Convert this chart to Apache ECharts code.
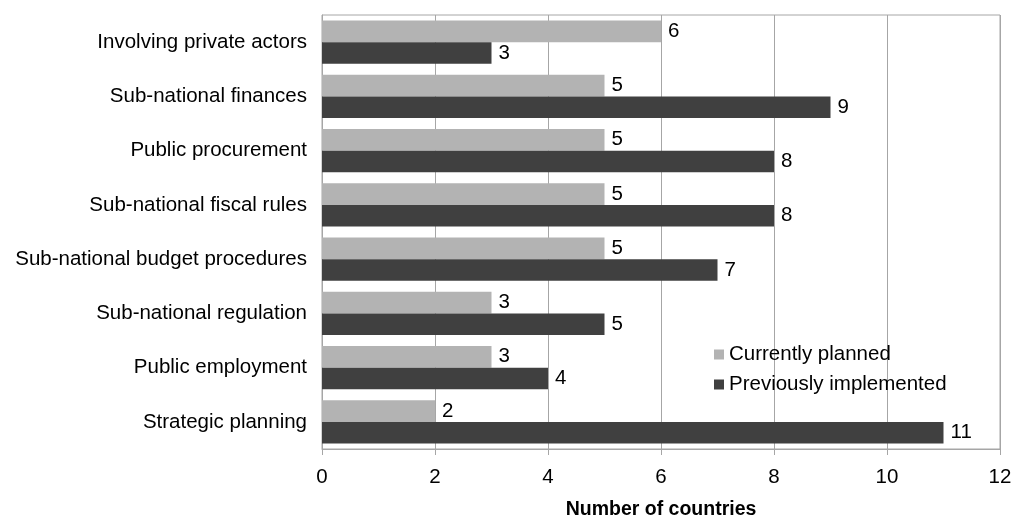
<!DOCTYPE html>
<html>
<head>
<meta charset="utf-8">
<script src="https://cdn.jsdelivr.net/npm/echarts@6/dist/echarts.min.js"></script>
<style>
  html, body { margin: 0; padding: 0; background: #fff; }
  #chart { width: 1014px; height: 518px; }
</style>
</head>
<body>
<div id="chart"></div>
<script>
// Reform areas, top to bottom
const categories = [
  'Involving private actors',
  'Sub-national finances',
  'Public procurement',
  'Sub-national fiscal rules',
  'Sub-national budget procedures',
  'Sub-national regulation',
  'Public employment',
  'Strategic planning'
];
const currentlyPlanned = [6, 5, 5, 5, 5, 3, 3, 2];
const previouslyImplemented = [3, 9, 8, 8, 7, 5, 4, 11];
const seriesNames = ['Currently planned', 'Previously implemented'];
const axisTitle = 'Number of countries';

const font = 'Liberation Sans, Arial, sans-serif';
const fs = 20.5;
const chart = echarts.init(document.getElementById('chart'));

const valueLabel = {
  show: true,
  position: 'right',
  distance: 7,
  color: '#000',
  fontFamily: font,
  fontSize: fs
};

chart.setOption({
  animation: false,
  textStyle: { fontFamily: font },
  grid: { left: 322, right: 14, top: 15, bottom: 69, containLabel: false,
          outerBoundsMode: 'none',
          show: true, borderColor: '#a6a6a6', borderWidth: 1 },
  legend: {
    orient: 'vertical',
    left: 709,
    top: 339,
    itemWidth: 10,
    itemHeight: 10,
    itemGap: 9,
    icon: 'rect',
    textStyle: { fontFamily: font, fontSize: fs, color: '#000' },
    data: seriesNames
  },
  xAxis: {
    type: 'value',
    min: 0,
    max: 12,
    interval: 2,
    name: axisTitle,
    nameLocation: 'middle',
    nameGap: 51,
    nameTextStyle: { fontFamily: font, fontSize: fs - 1, fontWeight: 'bold', color: '#000' },
    axisLine: { show: true, lineStyle: { color: '#a6a6a6' } },
    axisTick: { show: true, length: 6, lineStyle: { color: '#a6a6a6' } },
    axisLabel: { fontFamily: font, fontSize: fs, color: '#000', margin: 18 },
    splitLine: { show: true, lineStyle: { color: '#a6a6a6' } }
  },
  yAxis: {
    type: 'category',
    inverse: true,
    data: categories,
    axisLine: { show: true, lineStyle: { color: '#a6a6a6' } },
    axisTick: { show: false },
    axisLabel: { fontFamily: font, fontSize: fs, color: '#000', margin: 15 }
  },
  series: [
    {
      name: seriesNames[0],
      type: 'bar',
      data: currentlyPlanned,
      itemStyle: { color: '#b3b3b3' },
      barGap: '0%',
      barCategoryGap: '20%',
      label: valueLabel
    },
    {
      name: seriesNames[1],
      type: 'bar',
      data: previouslyImplemented,
      itemStyle: { color: '#404040' },
      barGap: '0%',
      barCategoryGap: '20%',
      label: valueLabel
    }
  ]
});
</script>
</body>
</html>
